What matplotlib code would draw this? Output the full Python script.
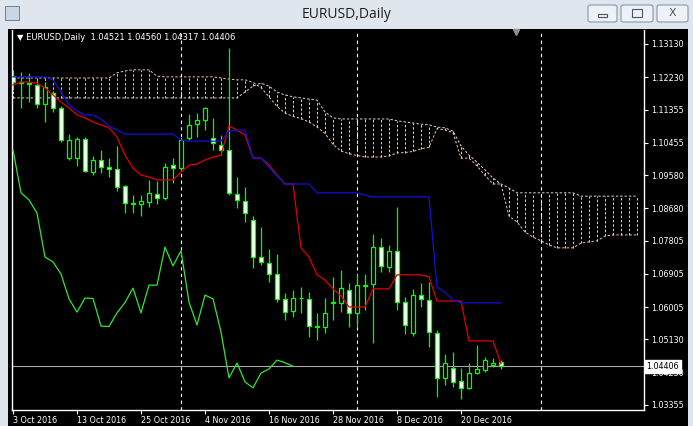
import numpy as np
import matplotlib
matplotlib.use('Agg')
import matplotlib.pyplot as plt
from matplotlib.patches import Rectangle, FancyBboxPatch
import matplotlib.transforms as mtransforms

# Velas diarias EURUSD (3 Oct 2016 -> 27 Dec 2016)
opens = [1.1226, 1.1207, 1.1207, 1.1202, 1.1151, 1.1180, 1.1140, 1.1004, 1.1004, 1.1056,
         1.0966, 1.0999, 1.0980, 1.0975, 1.0929, 1.0881, 1.0880, 1.0885, 1.0907, 1.0896,
         1.0985, 1.0977, 1.1059, 1.1096, 1.1107, 1.1059, 1.1040, 1.1026, 1.0907, 1.0888,
         1.0836, 1.0736, 1.0720, 1.0690, 1.0623, 1.0590, 1.0625, 1.0623, 1.0549, 1.0547,
         1.0612, 1.0612, 1.0647, 1.0585, 1.0658, 1.0663, 1.0763, 1.0709, 1.0753, 1.0614,
         1.0530, 1.0633, 1.0620, 1.0530, 1.0409, 1.0436, 1.0401, 1.0382, 1.0422, 1.0430,
         1.0444, 1.04521]
highs = [1.1243, 1.1237, 1.1235, 1.1216, 1.1210, 1.1186, 1.1145, 1.1069, 1.1061, 1.1061,
         1.1010, 1.1026, 1.1004, 1.1037, 1.0931, 1.0904, 1.0904, 1.0945, 1.0942, 1.0991,
         1.1004, 1.1061, 1.1124, 1.1126, 1.1142, 1.1113, 1.1067, 1.1302, 1.0953, 1.0926,
         1.0847, 1.0818, 1.0758, 1.0744, 1.0639, 1.0647, 1.0655, 1.0641, 1.0585, 1.0625,
         1.0682, 1.0701, 1.0666, 1.0690, 1.0690, 1.0799, 1.0788, 1.0769, 1.0872, 1.0628,
         1.0650, 1.0666, 1.0669, 1.0539, 1.0474, 1.0479, 1.0436, 1.0449, 1.0498, 1.0465,
         1.0463, 1.04560]
lows = [1.1194, 1.1140, 1.1156, 1.1140, 1.1102, 1.1129, 1.1048, 1.0999, 1.0983, 1.0966,
        1.0958, 1.0964, 1.0953, 1.0915, 1.0855, 1.0855, 1.0847, 1.0872, 1.0880, 1.0891,
        1.0937, 1.0972, 1.1053, 1.1061, 1.1080, 1.1026, 1.1012, 1.0905, 1.0869, 1.0831,
        1.0707, 1.0715, 1.0669, 1.0614, 1.0566, 1.0574, 1.0585, 1.0520, 1.0511, 1.0530,
        1.0566, 1.0587, 1.0547, 1.0547, 1.0593, 1.0503, 1.0696, 1.0696, 1.0593, 1.0528,
        1.0522, 1.0601, 1.0493, 1.0357, 1.0390, 1.0384, 1.0352, 1.0380, 1.0420, 1.0425,
        1.0438, 1.04317]
closes = [1.1210, 1.1209, 1.1205, 1.1151, 1.1197, 1.1140, 1.1053, 1.1053, 1.1056, 1.0969,
          1.0999, 1.0980, 1.0975, 1.0926, 1.0882, 1.0883, 1.0888, 1.0910, 1.0896, 1.0980,
          1.0977, 1.1053, 1.1094, 1.1107, 1.1140, 1.1045, 1.1026, 1.0910, 1.0891, 1.0855,
          1.0736, 1.0723, 1.0690, 1.0623, 1.0587, 1.0625, 1.0624, 1.0549, 1.0548, 1.0585,
          1.0613, 1.0652, 1.0585, 1.0660, 1.0660, 1.0763, 1.0712, 1.0753, 1.0614, 1.0552,
          1.0633, 1.0623, 1.0533, 1.0409, 1.0449, 1.0398, 1.0382, 1.0422, 1.0433, 1.0457,
          1.0450, 1.04406]

# Ichimoku: Tenkan-sen (rojo) y Kijun-sen (azul)
tenkan = [1.1202, 1.1210, 1.1210, 1.1207, 1.1194, 1.1175, 1.1156, 1.1140, 1.1121, 1.1113,
          1.1102, 1.1094, 1.1086, 1.1061, 1.1012, 1.0977, 1.0958, 1.0953, 1.0945, 1.0945,
          1.0945, 1.0966, 1.0985, 1.0988, 1.0999, 1.1007, 1.1012, 1.1091, 1.1080, 1.1067,
          1.1004, 1.1004, 1.0985, 1.0958, 1.0934, 1.0934, 1.0761, 1.0736, 1.0688, 1.0674,
          1.0650, 1.0631, 1.0601, 1.0601, 1.0601, 1.0650, 1.0650, 1.0650, 1.0688, 1.0688,
          1.0688, 1.0688, 1.0682, 1.0617, 1.0617, 1.0617, 1.0617, 1.0509, 1.0509, 1.0509,
          1.0509, 1.0447]
kijun = [1.1224, 1.1224, 1.1224, 1.1224, 1.1224, 1.1216, 1.1183, 1.1148, 1.1132, 1.1121,
         1.1121, 1.1110, 1.1091, 1.1080, 1.1069, 1.1069, 1.1069, 1.1069, 1.1069, 1.1069,
         1.1069, 1.1053, 1.1050, 1.1050, 1.1050, 1.1050, 1.1050, 1.1077, 1.1080, 1.1080,
         1.1004, 1.1004, 1.0980, 1.0956, 1.0934, 1.0934, 1.0934, 1.0934, 1.0910, 1.0910,
         1.0910, 1.0910, 1.0910, 1.0910, 1.0904, 1.0899, 1.0899, 1.0899, 1.0899, 1.0899,
         1.0899, 1.0899, 1.0899, 1.0655, 1.0641, 1.0620, 1.0612, 1.0612, 1.0612, 1.0612,
         1.0612, 1.0612]

# Nube (Senkou Span A / B), desplazada 26 barras hacia adelante
senkou_a = [1.1221] * 13 + [1.1235, 1.1240, 1.1243, 1.1243, 1.1243, 1.1226] + [1.1224] * 7 + \
           [1.1221, 1.1218, 1.1216, 1.1216, 1.1209, 1.1195, 1.1170, 1.1144, 1.1126, 1.1117,
            1.1111, 1.1102, 1.1088, 1.1071, 1.1041, 1.1023, 1.1016, 1.1011, 1.1007, 1.1007,
            1.1007, 1.1010, 1.1018, 1.1019, 1.1022, 1.1029, 1.1033, 1.1084, 1.1080, 1.1073,
            1.1004, 1.1004, 1.0983, 1.0957, 1.0934, 1.0934, 1.0847, 1.0831, 1.0804, 1.0790,
            1.0780, 1.0769, 1.0761, 1.0761, 1.0761, 1.0774, 1.0777, 1.0780, 1.0793, 1.0796,
            1.0796, 1.0796, 1.0796]
senkou_b = [1.1167] * 29 + \
           [1.1183, 1.1199, 1.1207, 1.1199, 1.1183, 1.1175, 1.1170, 1.1167, 1.1164, 1.1161,
            1.1129, 1.1113] + [1.1110] * 7 + \
           [1.1105, 1.1102, 1.1099, 1.1096, 1.1094, 1.1088, 1.1086, 1.1077, 1.1037, 1.1012,
            1.0993, 1.0972, 1.0950, 1.0934, 1.0923] + [1.0910] * 8 + [1.0901] * 8

# Ejes
tick_idx = [0, 8, 16, 24, 32, 40, 48, 56]
tick_labels = ['3 Oct 2016', '13 Oct 2016', '25 Oct 2016', '4 Nov 2016',
               '16 Nov 2016', '28 Nov 2016', '8 Dec 2016', '20 Dec 2016']
price_ticks = [1.13130, 1.12230, 1.11355, 1.10455, 1.09580, 1.08680,
               1.07805, 1.06905, 1.06005, 1.05130, 1.04230, 1.03355]
month_sep = [21, 43, 66]
last_price = 1.04406

W, H = 693, 426
fig = plt.figure(figsize=(W / 100, H / 100), dpi=100, facecolor='#dfe6ee')

# fondo negro de la ventana del grafico
fig.add_artist(Rectangle((8 / W, 0), (688 - 8) / W, (H - 29) / H, transform=fig.transFigure,
                         facecolor='black', edgecolor='none', zorder=-10))

# barra de titulo
fig.text(0.5, 1 - 14 / H, 'EURUSD,Daily', ha='center', va='center', fontsize=10,
         family=['Open Sans', 'DejaVu Sans'], color='#1e1e1e')
for x0, x1 in [(588, 617), (621, 653), (657, 688)]:
    fig.add_artist(FancyBboxPatch((x0 / W, 1 - 22 / H), (x1 - x0) / W, 17 / H,
                                  boxstyle='round,pad=0,rounding_size=0.004',
                                  transform=fig.transFigure, facecolor='#eef2f7',
                                  edgecolor='#8797ab', lw=0.8))
fig.add_artist(Rectangle((598 / W, 1 - 17 / H), 9 / W, 3 / H, transform=fig.transFigure,
                         facecolor='none', edgecolor='#4a5566', lw=0.8))
fig.add_artist(Rectangle((632 / W, 1 - 17 / H), 10 / W, 8 / H, transform=fig.transFigure,
                         facecolor='none', edgecolor='#4a5566', lw=0.8))
fig.text(672.5 / W, 1 - 13.5 / H, 'X', ha='center', va='center', fontsize=8,
         color='#4a5566')
fig.add_artist(Rectangle((5 / W, 1 - 20 / H), 14 / W, 14 / H, transform=fig.transFigure,
                         facecolor='#c8d6e6', edgecolor='#5a7290', lw=0.6))

ax = fig.add_axes([12 / W, (H - 410) / H, (644 - 12) / W, (410 - 30) / H])
ax.set_facecolor('black')

idx = np.arange(len(closes))
cidx = np.arange(len(senkou_a))
sa = np.array(senkou_a)
sb = np.array(senkou_b)

# nube: lineas verticales punteadas entre Span A y Span B
col_a = '#f2c4a0'
col_b = '#e6d0d6'
hatch_cols = [col_a if a >= b else col_b for a, b in zip(sa, sb)]
ax.vlines(cidx, np.minimum(sa, sb), np.maximum(sa, sb), colors=hatch_cols,
          linestyles=(0, (2.5, 2)), lw=0.7, zorder=1)
ax.plot(cidx, sa, color=col_a, ls=(0, (2.5, 2)), lw=0.7, zorder=1)
ax.plot(cidx, sb, color=col_b, ls=(0, (2.5, 2)), lw=0.7, zorder=1)

# separadores de mes
for m in month_sep:
    ax.axvline(m, color='white', ls=(0, (3, 3)), lw=0.8, zorder=1.5)

# precio actual
ax.axhline(last_price, color='#a8a8a8', lw=0.8, zorder=1.5)

# velas
green = '#00ff00'
o = np.array(opens)
c = np.array(closes)
ax.vlines(idx, lows, highs, color=green, lw=0.9, zorder=2)
fills = ['white' if cc < oo else 'black' for oo, cc in zip(o, c)]
ax.bar(idx, np.abs(c - o), bottom=np.minimum(o, c), width=0.6, color=fills,
       edgecolor=green, lw=0.9, zorder=2.5)

# Chikou span: cierre desplazado 26 barras hacia atras
ax.plot(idx[:len(closes) - 26], closes[26:], color='#33e633', lw=0.9, zorder=3)
ax.plot(idx, tenkan, color='#e00000', lw=0.9, zorder=3)
ax.plot(idx, kijun, color='#1010e0', lw=0.9, zorder=3)

ax.set_xlim(-0.125, 78.875)
ax.set_ylim(1.03219, 1.13509)

for s in ['left', 'bottom', 'right']:
    ax.spines[s].set_color('white')
    ax.spines[s].set_linewidth(1)
ax.spines['top'].set_visible(False)

ax.yaxis.tick_right()
ax.set_yticks(price_ticks)
ax.set_yticklabels(['%.5f' % p for p in price_ticks])
ax.set_xticks(tick_idx)
ax.set_xticklabels(tick_labels, ha='left')
ax.tick_params(colors='white', labelsize=5.8, length=3, width=0.8, pad=1.5)
ax.tick_params(axis='y', pad=2)

# etiqueta del precio actual
trans = mtransforms.blended_transform_factory(ax.transAxes, ax.transData)
ax.text(1.004, last_price, '%.5f' % last_price, transform=trans, va='center', ha='left',
        fontsize=5.8, color='black', zorder=5,
        bbox=dict(boxstyle='square,pad=0.25', facecolor='white', edgecolor='white'))

# cabecera del grafico
ax.text(0.008, 0.992, '\u25bc EURUSD,Daily  1.04521 1.04560 1.04317 1.04406',
        transform=ax.transAxes, va='top', ha='left', fontsize=6, color='white')
ax.plot([0.797], [0.994], marker='v', color='#909090', markersize=4,
        transform=ax.transAxes, clip_on=False)

fig.savefig('out.png', dpi=100, facecolor=fig.get_facecolor())
